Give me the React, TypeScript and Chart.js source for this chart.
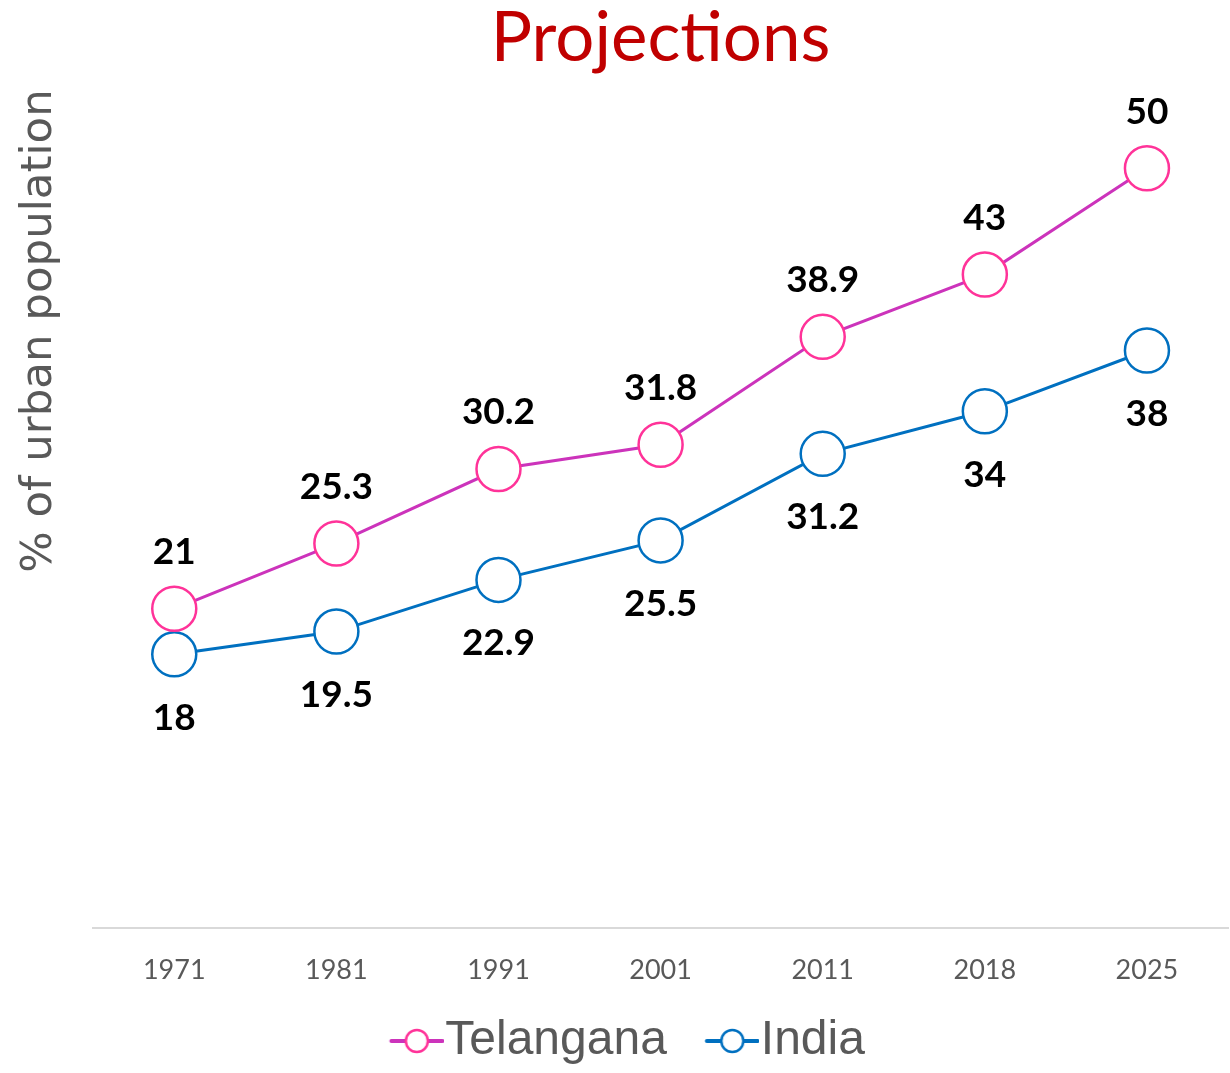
import React, { useEffect, useRef } from "react";
import { Chart, registerables } from "chart.js";

Chart.register(...registerables);

const years = ["1971", "1981", "1991", "2001", "2011", "2018", "2025"];
const telangana = [21, 25.3, 30.2, 31.8, 38.9, 43, 50];
const india = [18, 19.5, 22.9, 25.5, 31.2, 34, 38];
const seriesNames = ["Telangana", "India"];
const titleText = "Projections";
const yAxisTitle = "% of urban population";

const TEL_LINE = "#CC33BB";
const TEL_MARK = "#FF3399";
const IND_COLOR = "#0070C0";

function makeLegendIcon(lineColor: string, markerColor: string) {
  const c = document.createElement("canvas");
  c.width = 110;
  c.height = 30;
  const ctx = c.getContext("2d")!;
  const off = 55.6;
  ctx.strokeStyle = lineColor;
  ctx.lineWidth = 4;
  ctx.lineCap = "round";
  ctx.beginPath();
  ctx.moveTo(off + 2, 15);
  ctx.lineTo(off + 53, 15);
  ctx.stroke();
  ctx.beginPath();
  ctx.arc(off + 27.5, 15, 11, 0, Math.PI * 2);
  ctx.fillStyle = "#ffffff";
  ctx.fill();
  ctx.strokeStyle = markerColor;
  ctx.lineWidth = 2.5;
  ctx.stroke();
  return c;
}

const valueLabels = {
  id: "valueLabels",
  afterDatasetsDraw(chart: any) {
    const ctx = chart.ctx;
    chart.data.datasets.forEach((ds: any, i: number) => {
      const meta = chart.getDatasetMeta(i);
      const off = i === 0 ? -44.7 : 75.3;
      meta.data.forEach((pt: any, j: number) => {
        ctx.save();
        ctx.font = "bold 37px Lato";
        ctx.fillStyle = "#000000";
        ctx.textAlign = "center";
        ctx.textBaseline = "alphabetic";
        ctx.fillText(String(ds.data[j]), pt.x, pt.y + off);
        ctx.restore();
      });
    });
  },
};

export default function App() {
  const ref = useRef<HTMLCanvasElement>(null);
  useEffect(() => {
    if (!ref.current) return;
    const icons = [makeLegendIcon(TEL_LINE, TEL_MARK), makeLegendIcon(IND_COLOR, IND_COLOR)];
    const chart = new Chart(ref.current, {
      type: "line",
      data: {
        labels: years,
        datasets: [
          {
            label: seriesNames[0],
            data: telangana,
            borderColor: TEL_LINE,
            borderWidth: 3,
            pointRadius: 22,
            pointBorderWidth: 2.5,
            pointBorderColor: TEL_MARK,
            pointBackgroundColor: "#ffffff",
            tension: 0,
          },
          {
            label: seriesNames[1],
            data: india,
            borderColor: IND_COLOR,
            borderWidth: 3,
            pointRadius: 22,
            pointBorderWidth: 2.5,
            pointBorderColor: IND_COLOR,
            pointBackgroundColor: "#ffffff",
            tension: 0,
          },
        ],
      },
      options: {
        responsive: false,
        animation: false,
        devicePixelRatio: 1,
        layout: { autoPadding: false, padding: { left: -7, right: 2, top: 0, bottom: -2 } },
        plugins: {
          title: {
            display: true,
            fullSize: false,
            text: titleText,
            color: "#C00000",
            font: { family: "Lato", size: 69, weight: "normal", lineHeight: 1.125 },
            padding: { top: 0, bottom: 11.6 },
          },
          legend: {
            position: "bottom",
            labels: {
              usePointStyle: true,
              pointStyleWidth: 65.2,
              boxHeight: 48,
              padding: 4.8,
              color: "#595959",
              font: { family: "Liberation Sans", size: 48 },
              generateLabels: (c: any) => {
                const items = (Chart as any).defaults.plugins.legend.labels.generateLabels(c);
                items.forEach((it: any, i: number) => {
                  it.pointStyle = icons[i];
                });
                return items;
              },
            },
          },
          tooltip: { enabled: false },
        },
        scales: {
          x: {
            offset: true,
            grid: { display: false, drawTicks: false },
            border: { color: "#D9D9D9", width: 2 },
            ticks: { color: "#595959", font: { family: "Lato", size: 27 }, padding: 26 },
          },
          y: {
            min: 0,
            max: 55.2,
            ticks: { display: false },
            grid: { display: false, drawTicks: false },
            border: { display: false },
            title: {
              display: true,
              text: yAxisTitle,
              align: "end",
              color: "#595959",
              font: { family: "DejaVu Sans", size: 43.5 },
              padding: { top: 21, bottom: 27 },
            },
          },
        },
      },
      plugins: [valueLabels],
    } as any);
    return () => chart.destroy();
  }, []);
  return (
    <canvas
      ref={ref}
      width={1230}
      height={1073}
      style={{ position: "absolute", left: 0, top: 0 }}
    />
  );
}
